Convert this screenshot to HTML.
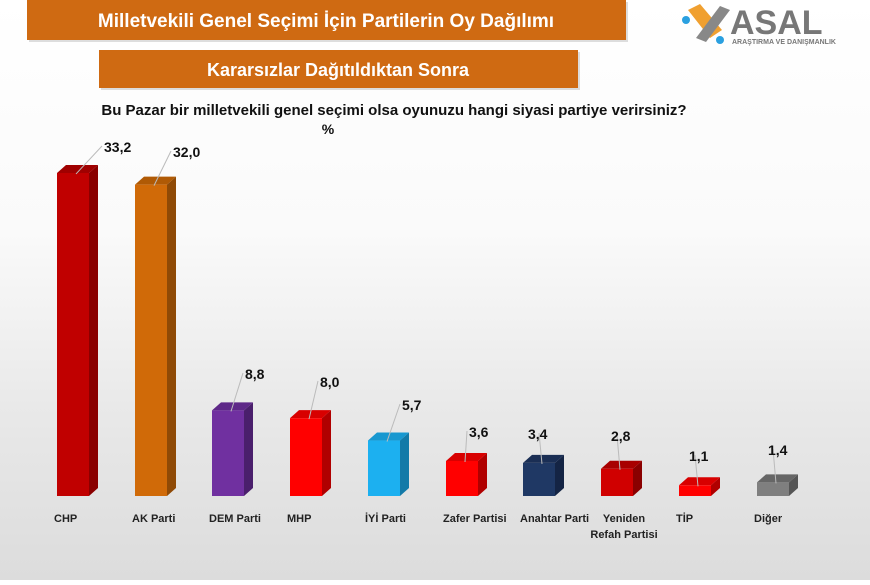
<!DOCTYPE html>
<html><head><meta charset="utf-8"><style>
body{margin:0;width:870px;height:580px;overflow:hidden;font-family:"Liberation Sans",sans-serif;}
</style></head><body>
<svg width="870" height="580" xmlns="http://www.w3.org/2000/svg" font-family="Liberation Sans, sans-serif">
<defs>
<linearGradient id="bg" x1="0" y1="0" x2="0" y2="1">
<stop offset="0" stop-color="#ffffff"/><stop offset="0.4" stop-color="#fafafa"/><stop offset="0.7" stop-color="#e9e9e9"/><stop offset="1" stop-color="#dcdcdc"/>
</linearGradient>
</defs>
<rect width="870" height="580" fill="url(#bg)"/>
<rect x="29" y="2" width="599" height="40" fill="#bbb" opacity="0.5"/>
<rect x="27" y="0" width="599" height="40" fill="#cf6a12"/>
<text x="326" y="27" fill="#fff" font-size="19" font-weight="bold" text-anchor="middle">Milletvekili Genel Seçimi İçin Partilerin Oy Dağılımı</text>
<rect x="101" y="52" width="479" height="38" fill="#bbb" opacity="0.5"/>
<rect x="99" y="50" width="479" height="38" fill="#cf6a12"/>
<text x="338" y="76" fill="#fff" font-size="18" font-weight="bold" text-anchor="middle">Kararsızlar Dağıtıldıktan Sonra</text>
<text x="394" y="115" fill="#111" font-size="15" font-weight="bold" text-anchor="middle">Bu Pazar bir milletvekili genel seçimi olsa oyunuzu hangi siyasi partiye verirsiniz?</text>
<text x="328" y="134" fill="#111" font-size="14" font-weight="bold" text-anchor="middle">%</text>
<g>
<path d="M688 10 L700 4 L722 30 L710 38Z" fill="#f0a030"/>
<path d="M696 38 L720 6 L730 10 L706 42Z" fill="#888"/>
<circle cx="686" cy="20" r="4" fill="#2aa0e0"/>
<circle cx="720" cy="40" r="4" fill="#2aa0e0"/>
<text x="730" y="34" fill="#777" font-size="34" font-weight="bold">ASAL</text>
<text x="732" y="44" fill="#777" font-size="7" font-weight="bold">ARAŞTIRMA VE DANIŞMANLIK</text>
</g>
<g id="bars"></g>
</svg>
<script>
const data=[["CHP",33.2,57,"#c00000","#8a0000","#a00000",104,152],
["AK Parti",32.0,135,"#d06a08","#8f4a06","#b05a05",173,157],
["DEM Parti",8.8,212,"#7030a0","#4a1f6c","#5e2888",245,379],
["MHP",8.0,290,"#ff0000","#b00000","#d80000",320,387],
["İYİ Parti",5.7,368,"#1cb0f0","#137aa8","#1898d0",402,410],
["Zafer Partisi",3.6,446,"#ff0000","#b00000","#d80000",469,437],
["Anahtar Parti",3.4,523,"#1f3864","#142444","#1a2e54",528,439],
["Yeniden|Refah Partisi",2.8,601,"#d00000","#8a0000","#a80000",611,441],
["TİP",1.1,679,"#ff0000","#b00000","#d80000",689,461],
["Diğer",1.4,757,"#7f7f7f","#555","#666",768,455]];
const g=document.getElementById("bars");let h="";const B=496,W=32,D=9,U=8;
for(const [n,v,x,c,s,t,lx,ly] of data){const y=B-v*9.73;
h+=`<polygon points="${x+W},${y} ${x+W+D},${y-U} ${x+W+D},${B-U} ${x+W},${B}" fill="${s}"/>`;
h+=`<polygon points="${x},${y} ${x+D},${y-U} ${x+W+D},${y-U} ${x+W},${y}" fill="${t}"/>`;
h+=`<rect x="${x}" y="${y}" width="${W}" height="${B-y}" fill="${c}"/>`;
const bx=x+W/2+3, by=y+1, ex=Math.max(lx-2,bx-3), ey=ly-6;
h+=`<polyline points="${bx},${by} ${ex},${ey}" fill="none" stroke="#bbb" stroke-width="1"/>`;
h+=`<text x="${lx}" y="${ly}" font-size="14" font-weight="bold" fill="#111">${v.toFixed(1).replace('.',',')}</text>`;
const parts=n.split("|");const cx=parts.length>1?x+W/2+7:x-3;const anc=parts.length>1?"middle":"start";
parts.forEach((p,i)=>{h+=`<text x="${cx}" y="${522+i*16}" font-size="11" font-weight="bold" fill="#222" text-anchor="${anc}">${p}</text>`;});}
g.innerHTML=h;
</script>
</body></html>
